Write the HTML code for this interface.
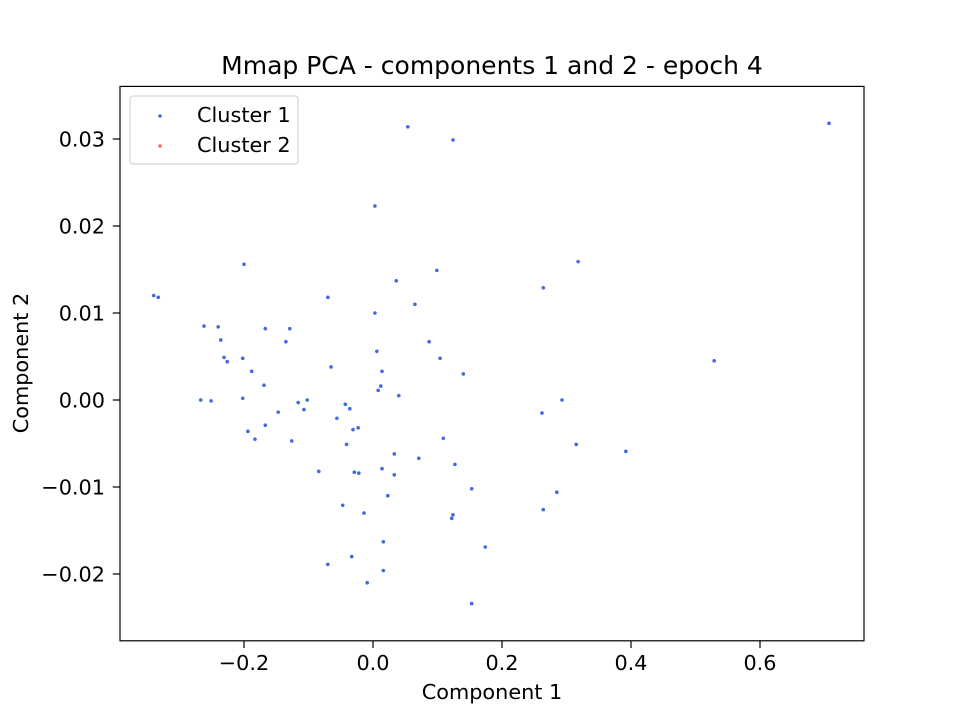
<!DOCTYPE html>
<html><head><meta charset="utf-8"><style>body{margin:0;background:#fff}svg{display:block;font-family:"DejaVu Sans","Liberation Sans",sans-serif}</style></head>
<body>
<svg id="chart" width="960" height="720">
<rect width="960" height="720" fill="#fff"/>
<text x="492" y="74" font-size="25" text-anchor="middle">Mmap PCA - components 1 and 2 - epoch 4</text>
<g id="points"></g>
<rect x="120" y="86.4" width="744" height="554.4" fill="none" stroke="#000" stroke-width="1.2"/>
<g id="xticks"></g>
<g id="yticks"></g>
<text x="492" y="699" font-size="20.8" text-anchor="middle">Component 1</text>
<text transform="translate(28,363) rotate(-90)" font-size="20.8" text-anchor="middle">Component 2</text>
<g>
<rect x="130" y="96" width="168" height="68" rx="3" fill="#fff" fill-opacity="0.8" stroke="#ccc"/>
<circle cx="160" cy="116" r="1.8" fill="#4169e1"/>
<text x="197" y="122" font-size="20.8">Cluster 1</text>
<circle cx="160" cy="146" r="1.8" fill="#ff6b6b"/>
<text x="197" y="152" font-size="20.8">Cluster 2</text>
</g>
</svg>
<script>
const xVals=[-0.340,-0.333,-0.262,-0.240,-0.236,-0.231,-0.226,-0.200,-0.202,-0.188,-0.169,-0.167,-0.129,-0.135,-0.267,-0.251,-0.202,-0.194,-0.183,-0.167,-0.147,-0.126,-0.116,-0.107,-0.102,-0.084,-0.070,-0.070,-0.065,-0.056,-0.047,-0.043,-0.041,-0.036,-0.033,-0.031,-0.029,-0.023,-0.022,-0.014,-0.009,0.003,0.003,0.006,0.008,0.012,0.014,0.014,0.016,0.016,0.023,0.033,0.033,0.036,0.040,0.054,0.065,0.071,0.087,0.099,0.104,0.109,0.127,0.122,0.124,0.140,0.153,0.153,0.174,0.124,0.264,0.262,0.264,0.285,0.293,0.315,0.318,0.392,0.529,0.707];
const yValsMilli=[12.0,11.8,8.5,8.4,6.9,4.9,4.4,15.6,4.8,3.3,1.7,8.2,8.2,6.7,0,-0.1,0.2,-3.6,-4.5,-2.9,-1.4,-4.7,-0.3,-1.1,0,-8.2,-18.9,11.8,3.8,-2.1,-12.1,-0.5,-5.1,-1.0,-18.0,-3.4,-8.3,-3.2,-8.4,-13.0,-21.0,22.3,10.0,5.6,1.1,1.6,3.3,-7.9,-16.3,-19.6,-11.0,-6.2,-8.6,13.7,0.5,31.4,11.0,-6.7,6.7,14.9,4.8,-4.4,-7.4,-13.6,-13.2,3.0,-10.2,-23.4,-16.9,29.9,12.9,-1.5,-12.6,-10.6,0,-5.1,15.9,-5.9,4.5,31.8];
const xTickVals=[-0.2,0.0,0.2,0.4,0.6];
const xTickLabels=["−0.2","0.0","0.2","0.4","0.6"];
const yTickVals=[-0.02,-0.01,0,0.01,0.02,0.03];
const yTickLabels=["−0.02","−0.01","0.00","0.01","0.02","0.03"];
const NS="http://www.w3.org/2000/svg";
function xs(v){return 373+645*v;}
function ys(v){return 400-8700*v;}
function mk(t,a,p){const e=document.createElementNS(NS,t);for(const k in a)e.setAttribute(k,a[k]);p.appendChild(e);return e;}
const pts=document.getElementById('points');
xVals.forEach((x,i)=>{const c=mk('circle',{cx:xs(x),cy:ys(yValsMilli[i]*0.001),r:1.8,fill:'#4169e1'},pts);

});
const xg=document.getElementById('xticks');
xTickVals.forEach((v,i)=>{const x=xs(v);
const l=mk('line',{x1:x,x2:x,y1:640.8,y2:648,stroke:'#000','stroke-width':1.2},xg);


const t=mk('text',{x:x,y:670,'font-size':20.8,'text-anchor':'middle'},xg);t.textContent=xTickLabels[i];

});
const yg=document.getElementById('yticks');
yTickVals.forEach((v,i)=>{const y=ys(v);
const l=mk('line',{x1:112.8,x2:120,y1:y,y2:y,stroke:'#000','stroke-width':1.2},yg);


const t=mk('text',{x:105,y:y+7.5,'font-size':20.8,'text-anchor':'end'},yg);t.textContent=yTickLabels[i];

});
</script>
</body></html>
